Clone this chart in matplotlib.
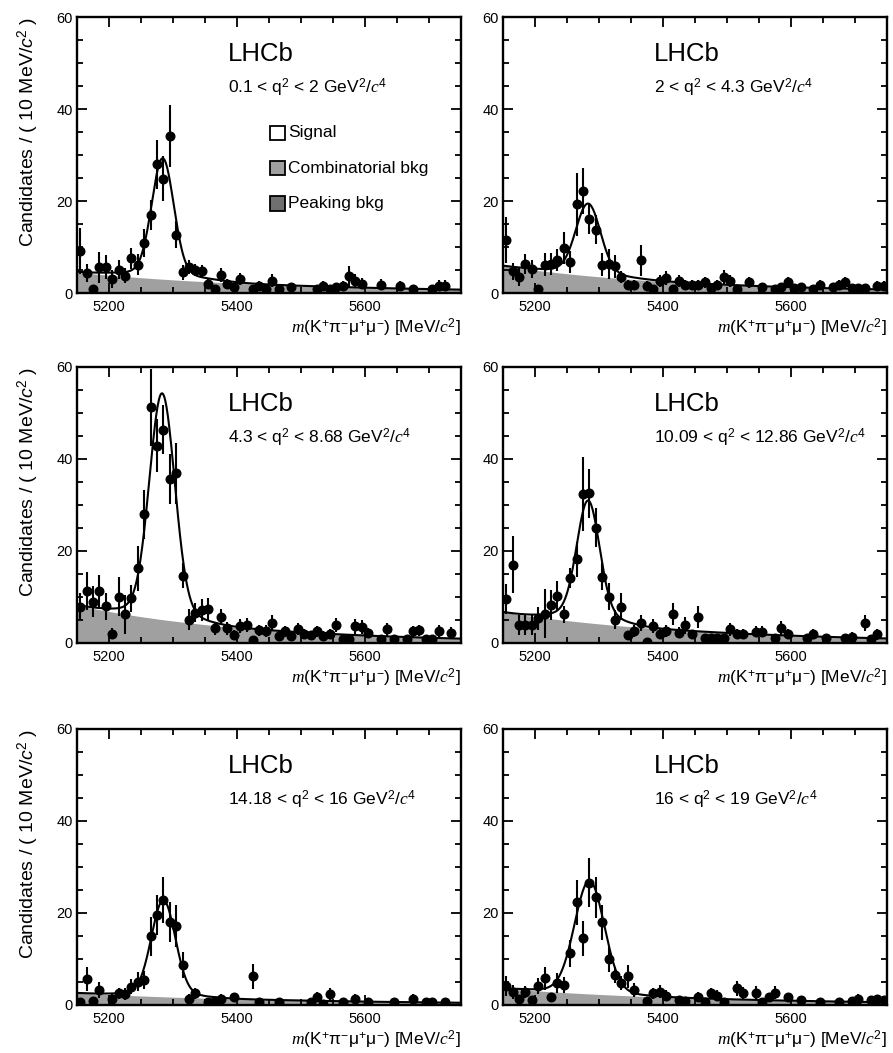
import numpy as np
import matplotlib
matplotlib.use("Agg")
import matplotlib.pyplot as plt
from matplotlib.patches import Rectangle
from matplotlib.ticker import MultipleLocator

plt.rcParams['font.family'] = ['Liberation Sans', 'DejaVu Sans']
plt.rcParams['mathtext.fontset'] = 'custom'
plt.rcParams['mathtext.rm'] = 'Liberation Sans'
plt.rcParams['mathtext.it'] = 'Liberation Serif:italic'
plt.rcParams['mathtext.sf'] = 'Liberation Sans:italic'

# q2 bins
q2_labels = [r"0.1 < q$^{2}$ < 2 GeV$^{2}$/$c^{4}$",
             r"2 < q$^{2}$ < 4.3 GeV$^{2}$/$c^{4}$",
             r"4.3 < q$^{2}$ < 8.68 GeV$^{2}$/$c^{4}$",
             r"10.09 < q$^{2}$ < 12.86 GeV$^{2}$/$c^{4}$",
             r"14.18 < q$^{2}$ < 16 GeV$^{2}$/$c^{4}$",
             r"16 < q$^{2}$ < 19 GeV$^{2}$/$c^{4}$"]

# data points: bin centre [MeV/c2], candidates, error
m1 = [5155, 5165, 5175, 5185, 5195, 5205, 5215, 5225, 5235, 5245, 5255, 5265, 5275, 5285, 5295, 5305,
      5315, 5325, 5335, 5345, 5355, 5365, 5375, 5385, 5395, 5405, 5425, 5435, 5445, 5455, 5465, 5485,
      5525, 5535, 5545, 5555, 5565, 5575, 5585, 5595, 5625, 5655, 5675, 5705, 5715, 5725]
n1 = [9.1, 4.3, 0.9, 5.6, 5.6, 3.0, 5.1, 3.8, 7.6, 6.2, 10.9, 17.0, 28.0, 24.9, 34.2, 12.7,
      4.5, 5.6, 5.1, 4.7, 2.0, 0.9, 3.9, 2.0, 1.3, 3.0, 0.9, 1.6, 0.9, 2.7, 0.9, 1.3,
      0.9, 1.6, 0.9, 1.3, 1.6, 3.6, 2.7, 2.0, 1.8, 1.6, 0.9, 0.9, 1.6, 1.6]
e1 = [5.0, 2.0, 0.9, 3.4, 2.6, 2.0, 2.0, 1.6, 2.3, 2.2, 3.0, 3.3, 5.3, 4.8, 6.7, 3.0,
      1.6, 1.5, 1.3, 1.3, 1.2, 0.8, 1.5, 1.0, 0.8, 1.3, 0.8, 1.0, 0.8, 1.4, 0.8, 0.9,
      0.8, 1.0, 0.8, 0.9, 1.0, 2.2, 1.4, 1.2, 1.2, 1.0, 0.8, 0.8, 1.2, 1.2]

m2 = [5155, 5165, 5175, 5185, 5195, 5205, 5215, 5225, 5235, 5245, 5255, 5265, 5275, 5285, 5295, 5305,
      5315, 5325, 5335, 5345, 5355, 5365, 5375, 5385, 5395, 5405, 5415, 5425, 5435, 5445, 5455, 5465,
      5475, 5485, 5495, 5505, 5515, 5535, 5555, 5575, 5585, 5595, 5605, 5615, 5635, 5645, 5665, 5675,
      5685, 5695, 5705, 5715, 5735, 5745]
n2 = [11.6, 4.7, 3.5, 6.3, 5.2, 0.9, 6.2, 6.3, 7.2, 9.8, 6.7, 19.3, 22.1, 16.2, 13.8, 6.2,
      6.3, 5.8, 3.5, 1.8, 1.8, 7.1, 1.6, 0.9, 2.7, 3.3, 0.9, 2.7, 1.8, 1.8, 1.8, 2.3,
      1.2, 1.8, 3.5, 2.7, 0.9, 2.3, 1.3, 0.9, 1.3, 2.3, 1.0, 1.3, 0.9, 1.8, 1.3, 1.8,
      2.3, 1.0, 1.0, 1.0, 1.6, 1.6]
e2 = [5.0, 1.9, 2.0, 2.2, 2.0, 0.9, 2.5, 2.3, 2.3, 3.4, 2.4, 6.8, 5.0, 3.4, 3.2, 2.4,
      3.3, 2.5, 1.4, 1.0, 1.0, 3.3, 1.0, 0.8, 1.3, 1.5, 0.8, 1.3, 1.0, 1.0, 1.0, 1.2,
      0.9, 1.0, 1.5, 1.3, 0.8, 1.2, 0.9, 0.8, 0.9, 1.2, 0.8, 0.9, 0.8, 1.0, 0.9, 1.0,
      1.2, 0.8, 0.8, 0.8, 1.0, 1.0]

m3 = [5155, 5165, 5175, 5185, 5195, 5205, 5215, 5225, 5235, 5245, 5255, 5265, 5275, 5285, 5295, 5305,
      5315, 5325, 5335, 5345, 5355, 5365, 5375, 5385, 5395, 5405, 5415, 5425, 5435, 5445, 5455, 5465,
      5475, 5485, 5495, 5505, 5515, 5525, 5535, 5545, 5555, 5565, 5575, 5585, 5595, 5605, 5625, 5635,
      5645, 5665, 5675, 5685, 5695, 5705, 5715, 5735]
n3 = [7.9, 11.3, 9.0, 11.3, 8.0, 2.0, 10.1, 6.2, 9.7, 16.2, 28.0, 51.2, 42.9, 46.4, 35.7, 36.9,
      14.6, 5.1, 6.6, 7.2, 7.3, 3.2, 5.6, 3.2, 1.7, 3.7, 3.9, 0.7, 2.8, 2.6, 4.4, 1.5,
      2.5, 1.5, 3.0, 2.0, 1.7, 2.5, 1.5, 2.0, 3.9, 0.8, 0.8, 3.6, 3.4, 2.1, 0.8, 3.0,
      0.8, 0.8, 2.5, 2.8, 0.8, 0.8, 2.6, 2.2]
e3 = [2.9, 4.2, 3.3, 3.5, 2.9, 1.2, 4.2, 4.2, 2.9, 4.9, 5.3, 8.3, 5.8, 5.3, 5.4, 6.6,
      2.7, 2.3, 2.0, 2.4, 2.4, 1.4, 1.8, 1.4, 1.1, 1.5, 1.5, 0.8, 1.2, 1.2, 1.6, 1.0,
      1.2, 1.0, 1.3, 1.1, 1.0, 1.2, 1.0, 1.1, 1.5, 0.8, 0.8, 1.6, 1.5, 1.1, 0.8, 1.4,
      0.8, 0.8, 1.2, 1.2, 0.8, 0.8, 1.3, 1.2]

m4 = [5155, 5165, 5175, 5185, 5195, 5205, 5215, 5225, 5235, 5245, 5255, 5265, 5275, 5285, 5295, 5305,
      5315, 5325, 5335, 5345, 5355, 5365, 5375, 5385, 5395, 5405, 5415, 5425, 5435, 5445, 5455, 5465,
      5475, 5485, 5495, 5505, 5515, 5525, 5545, 5555, 5575, 5585, 5595, 5625, 5635, 5655, 5685, 5695,
      5715, 5725, 5735]
n4 = [9.5, 17.0, 3.9, 3.9, 3.9, 5.4, 6.4, 8.3, 10.3, 6.2, 14.1, 18.2, 32.4, 32.5, 25.1, 14.4,
      10.1, 5.1, 7.9, 1.7, 2.5, 4.3, 0.3, 3.7, 2.0, 2.6, 6.3, 2.2, 3.8, 1.9, 5.7, 1.0,
      1.0, 1.0, 1.0, 3.0, 2.0, 2.0, 2.4, 2.4, 1.0, 3.2, 2.0, 1.0, 2.0, 1.0, 1.0, 1.4,
      4.3, 0.8, 1.9]
e4 = [3.3, 6.2, 2.1, 2.1, 2.1, 2.5, 5.4, 3.3, 3.1, 1.8, 2.2, 3.8, 8.1, 5.4, 4.3, 2.9,
      2.9, 2.0, 2.9, 1.0, 1.3, 1.8, 0.8, 1.5, 1.2, 1.3, 2.4, 1.2, 1.9, 1.0, 2.4, 0.8,
      0.8, 0.8, 0.8, 1.4, 1.0, 1.0, 1.2, 1.2, 0.8, 1.6, 1.0, 0.8, 1.0, 0.8, 0.8, 0.9,
      1.8, 0.8, 1.2]

m5 = [5155, 5165, 5175, 5185, 5205, 5215, 5225, 5235, 5245, 5255, 5265, 5275, 5285, 5295, 5305, 5315,
      5325, 5335, 5355, 5365, 5375, 5395, 5425, 5435, 5465, 5515, 5525, 5535, 5545, 5565, 5585, 5605,
      5645, 5675, 5695, 5705, 5725]
n5 = [0.7, 5.6, 0.9, 3.3, 1.4, 2.5, 2.4, 4.0, 5.1, 5.4, 14.9, 19.6, 22.8, 18.1, 17.2, 8.7,
      1.4, 2.5, 0.6, 0.9, 1.4, 1.7, 6.2, 0.7, 0.7, 0.6, 1.8, 0.3, 2.3, 0.7, 1.4, 0.7,
      0.7, 1.4, 0.7, 0.7, 0.7]
e5 = [0.8, 2.6, 0.9, 1.7, 1.0, 1.3, 1.3, 1.7, 2.0, 2.0, 4.3, 4.3, 5.0, 4.3, 4.5, 2.9,
      1.0, 1.2, 0.8, 0.8, 0.9, 1.0, 2.8, 0.8, 0.8, 0.8, 1.0, 0.8, 1.3, 0.8, 1.0, 0.8,
      0.8, 1.0, 0.8, 0.8, 0.8]

m6 = [5155, 5165, 5175, 5185, 5195, 5205, 5215, 5225, 5235, 5245, 5255, 5265, 5275, 5285, 5295, 5305,
      5315, 5325, 5335, 5345, 5355, 5375, 5385, 5395, 5405, 5425, 5435, 5455, 5465, 5475, 5485, 5495,
      5515, 5525, 5545, 5555, 5565, 5575, 5595, 5615, 5645, 5675, 5695, 5705, 5725, 5735, 5745]
n6 = [4.1, 2.9, 1.2, 2.9, 1.1, 4.1, 5.8, 1.7, 4.7, 4.3, 11.2, 22.3, 14.5, 26.6, 23.4, 18.0,
      9.9, 6.5, 4.7, 6.2, 3.3, 0.9, 2.5, 2.9, 2.0, 1.1, 0.9, 1.7, 0.7, 2.5, 2.0, 0.7,
      3.6, 2.7, 2.7, 0.7, 1.7, 2.7, 1.7, 1.1, 0.7, 0.7, 0.9, 1.4, 1.1, 1.2, 1.1]
e6 = [2.2, 1.5, 1.0, 1.3, 0.9, 1.8, 2.5, 1.0, 2.2, 1.8, 2.9, 4.9, 3.8, 5.3, 4.5, 3.8,
      2.8, 1.8, 1.5, 2.5, 1.5, 0.8, 1.2, 1.4, 1.2, 0.9, 0.8, 1.1, 0.8, 1.3, 1.2, 0.8,
      1.6, 1.3, 1.4, 0.8, 1.0, 1.5, 1.0, 0.9, 0.8, 0.8, 0.8, 1.0, 0.9, 1.0, 0.9]

# fit components
sig_mean = [5284, 5283, 5283, 5283, 5285, 5285]
sig_width = [17.0, 19.0, 19.5, 17.5, 18.5, 23.0]
sig_peak = [24.8, 14.7, 46.7, 24.1, 20.0, 23.8]
tail_peak = [1.5, 1.0, 2.5, 2.5, 1.0, 0.8]
tail_width = [60, 55, 50, 45, 50, 60]
comb_norm = [4.5, 5.9, 8.2, 6.7, 2.6, 3.6]
comb_slope = [0.0030, 0.0034, 0.0036, 0.0032, 0.0028, 0.0030]

masses = [m1, m2, m3, m4, m5, m6]
counts = [n1, n2, n3, n4, n5, n6]
errors = [e1, e2, e3, e4, e5, e6]

comb_color = '#a0a0a0'
peak_color = '#707070'

fig = plt.figure(figsize=(8.93, 10.53), dpi=100)

col_x = [0.0862, 0.5633]
row_y = [0.7217, 0.3894, 0.0456]
ax_w, ax_h = 0.430, 0.2621

xfit = np.linspace(5150, 5750, 601)

for i in range(6):
    r, c = divmod(i, 2)
    ax = fig.add_axes([col_x[c], row_y[r], ax_w, ax_h])

    comb = comb_norm[i] * np.exp(-comb_slope[i] * (xfit - 5150))
    sig = sig_peak[i] * np.exp(-0.5 * ((xfit - sig_mean[i]) / sig_width[i]) ** 2)
    tail = tail_peak[i] * np.exp(-0.5 * ((xfit - sig_mean[i]) / tail_width[i]) ** 2)

    ax.fill_between(xfit, 0, comb, color=comb_color, lw=0, zorder=1)
    ax.plot(xfit, comb + sig + tail, color='black', lw=1.5, zorder=2)
    ax.errorbar(masses[i], counts[i], yerr=errors[i], fmt='o', color='black', ms=6.2,
                elinewidth=1.5, capsize=0, zorder=3)

    ax.set_xlim(5150, 5750)
    ax.set_ylim(0, 60)
    ax.xaxis.set_major_locator(MultipleLocator(200))
    ax.xaxis.set_minor_locator(MultipleLocator(50))
    ax.yaxis.set_major_locator(MultipleLocator(20))
    ax.yaxis.set_minor_locator(MultipleLocator(5))
    ax.tick_params(which='both', direction='in', top=True, right=True, labelsize=10.5, width=1.3)
    ax.tick_params(which='major', length=7)
    ax.tick_params(which='minor', length=4)
    ax.tick_params(axis='x', pad=5)
    ax.tick_params(axis='y', pad=3)
    for sp in ax.spines.values():
        sp.set_linewidth(1.7)

    ax.set_xlabel(r"$m$(K$^{+}$π$^{-}$μ$^{+}$μ$^{-}$) [MeV/$c^{2}$]", loc='right', fontsize=12.5, labelpad=2)
    if c == 0:
        ax.set_ylabel(r"Candidates / ( 10 MeV/$\mathsf{c}^{2}$ )", loc='top', fontsize=14, labelpad=11)

    ax.text(0.393, 0.866, "LHCb", transform=ax.transAxes, fontsize=18.5, va='center', ha='left')
    ax.text(0.393, 0.743, q2_labels[i], transform=ax.transAxes, fontsize=12.5, va='center', ha='left')

    if i == 0:
        entries = [("Signal", 'white'), ("Combinatorial bkg", comb_color), ("Peaking bkg", peak_color)]
        for k, (lab, col) in enumerate(entries):
            yc = 0.580 - k * 0.127
            ax.add_patch(Rectangle((0.503, yc - 0.027), 0.039, 0.054, transform=ax.transAxes,
                                   facecolor=col, edgecolor='black', lw=1.3, zorder=4))
            ax.text(0.550, yc, lab, transform=ax.transAxes, fontsize=12.5, va='center', ha='left')

fig.savefig("out.png", dpi=100)
